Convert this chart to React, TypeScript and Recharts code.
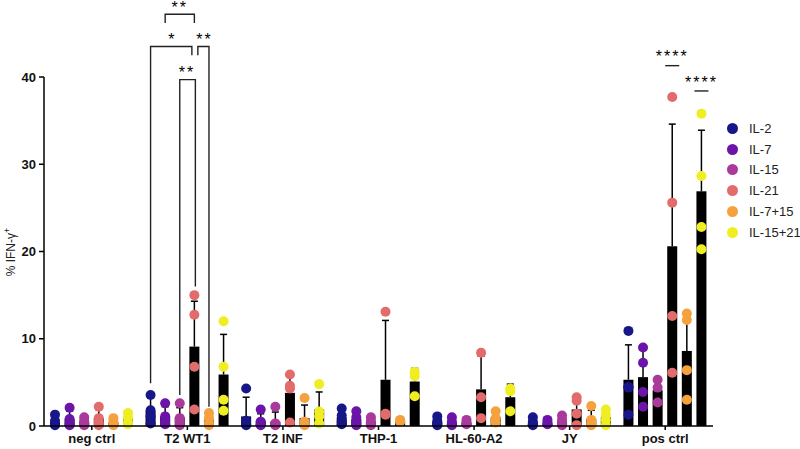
import React from 'react';
import { BarChart, Bar, XAxis, YAxis, Legend } from 'recharts';

const categories = ['neg ctrl', 'T2 WT1', 'T2 INF', 'THP-1', 'HL-60-A2', 'JY', 'pos ctrl'];
const seriesNames = ['IL-2', 'IL-7', 'IL-15', 'IL-21', 'IL-7+15', 'IL-15+21'];
const seriesColors = ['#17178a', '#6a14aa', '#a93a9c', '#e26b6b', '#f5a13e', '#eeee22'];

// bar heights (mean % IFN-γ+)
const il2Mean = [0.5, 1.7, 1.1, 1.0, 0.5, 0.4, 5.3];
const il7Mean = [0.8, 1.1, 0.6, 0.8, 0.4, 0.3, 5.6];
const il15Mean = [0.5, 1.0, 0.5, 0.5, 0.4, 0.5, 4.1];
const il21Mean = [0.9, 9.1, 3.8, 5.3, 4.2, 1.9, 20.6];
const il715Mean = [0.4, 0.7, 0.9, 0.6, 1.0, 0.8, 8.6];
const il1521Mean = [0.8, 5.9, 1.9, 5.1, 3.3, 1.0, 26.9];

// top of the error bars (mean + SD)
const il2Top = [1.1, 3.2, 3.3, 1.8, 1.0, 0.9, 9.3];
const il7Top = [1.7, 2.2, 1.4, 1.5, 0.8, 0.6, 8.7];
const il15Top = [0.9, 2.1, 1.6, 0.9, 0.7, 1.0, 5.4];
const il21Top = [1.9, 14.3, 6.1, 12.1, 8.0, 3.4, 34.6];
const il715Top = [0.8, 1.4, 2.4, 0.7, 1.7, 1.8, 12.9];
const il1521Top = [1.4, 10.5, 3.9, 6.6, 4.8, 1.8, 33.9];

// individual donors
const il2Dots = [[1.3, 0.6, 0.2, 0.1], [3.55, 1.8, 1.1, 0.3], [4.3, 0.6, 0.2, 0.1], [2.0, 1.2, 0.5, 0.2], [1.1, 0.6, 0.3, 0.1], [1.0, 0.5, 0.2, 0.1], [10.9, 4.5, 4.4, 1.3]];
const il7Dots = [[2.1, 0.8, 0.3, 0.1], [2.6, 1.1, 0.6, 0.2], [1.9, 0.5, 0.2, 0.1], [1.7, 1.0, 0.4, 0.1], [1.0, 0.5, 0.2, 0.1], [0.7, 0.4, 0.2], [9.0, 7.25, 3.9, 2.2]];
const il15Dots = [[1.0, 0.6, 0.3, 0.1], [2.6, 0.9, 0.5, 0.1], [2.2, 0.3, 0.2, 0.1], [1.0, 0.6, 0.3, 0.1], [0.7, 0.4, 0.2], [1.2, 0.7, 0.4, 0.1], [5.3, 4.4, 2.7]];
const il21Dots = [[2.2, 0.9, 0.4, 0.1], [15.0, 12.75, 6.8, 1.9], [5.9, 4.6, 4.3, 0.4], [13.1, 1.4, 1.3], [8.4, 3.3, 0.9], [3.3, 2.9, 1.4, 0.1], [37.7, 25.6, 12.6, 6.1]];
const il715Dots = [[0.9, 0.5, 0.2, 0.1], [1.5, 0.9, 0.4, 0.1], [3.2, 0.5, 0.2, 0.1], [0.7, 0.6, 0.5], [1.7, 0.9, 0.4], [2.3, 0.7, 0.3, 0.1], [12.9, 12.15, 6.4, 3.0]];
const il1521Dots = [[1.5, 1.0, 0.5, 0.2], [12.0, 6.8, 3.0, 1.75], [4.8, 1.65, 1.1, 0.3], [6.2, 5.7, 3.4], [4.3, 4.0, 1.7], [1.9, 1.25, 0.7, 0.1], [35.8, 28.65, 22.8, 20.25]];

const means = [il2Mean, il7Mean, il15Mean, il21Mean, il715Mean, il1521Mean];
const tops = [il2Top, il7Top, il15Top, il21Top, il715Top, il1521Top];
const dots = [il2Dots, il7Dots, il15Dots, il21Dots, il715Dots, il1521Dots];

const data = categories.map((name, i) => {
  const row: any = { name };
  means.forEach((m, s) => { row[`s${s}`] = m[i]; });
  return row;
});

const BAR_SIZE = 10;
const BAR_GAP = 4.6;
const FONT = '"Liberation Sans", Arial, sans-serif';

const Stars = ({ x, y, t }: any) => (
  <text x={x} y={y + 8} textAnchor="middle" fontSize={16} letterSpacing={2} fill="#000" stroke="none" fontFamily={FONT}>{t}</text>
);

// significance brackets, drawn from the last series so they sit on top
const Brackets = ({ cx, step, py, index }: any) => {
  const bx = (j: number, d = 0) => cx - (5 - j) * step + d;
  const st = { stroke: '#222', strokeWidth: 1.4, fill: 'none' };
  if (index === 1) {
    return (
      <g>
        <polyline {...st} points={`${bx(1)},${py(46.2)} ${bx(1)},${py(47.2)} ${bx(3)},${py(47.2)} ${bx(3)},${py(46.2)}`} />
        <Stars x={(bx(1) + bx(3)) / 2} y={py(48.3)} t="**" />
        <polyline {...st} points={`${bx(0)},${py(4.9)} ${bx(0)},${py(43.5)} ${bx(3, -2.5)},${py(43.5)} ${bx(3, -2.5)},${py(42.5)}`} />
        <Stars x={(bx(0) + bx(3)) / 2} y={py(44.6)} t="*" />
        <polyline {...st} points={`${bx(3, 3.5)},${py(42.5)} ${bx(3, 3.5)},${py(43.5)} ${bx(4)},${py(43.5)} ${bx(4)},${py(2.2)}`} />
        <Stars x={(bx(3, 3.5) + bx(4)) / 2 + 1} y={py(44.6)} t="**" />
        <polyline {...st} points={`${bx(2)},${py(3.55)} ${bx(2)},${py(39.7)} ${bx(3, 1)},${py(39.7)} ${bx(3, 1)},${py(16.0)}`} />
        <Stars x={Math.round((bx(2) + bx(3)) / 2)} y={Math.round(py(40.8))} t="**" />
      </g>
    );
  }
  if (index === 6) {
    return (
      <g>
        <line {...st} x1={bx(3, -7)} x2={bx(3, 7)} y1={py(41.3)} y2={py(41.3)} />
        <Stars x={bx(3)} y={py(42.6)} t="****" />
        <line {...st} x1={bx(5, -7)} x2={bx(5, 7)} y1={py(38.4)} y2={py(38.4)} />
        <Stars x={bx(5)} y={py(39.7)} t="****" />
      </g>
    );
  }
  return null;
};

const BarWithPoints = (props: any) => {
  const { x, y, width, height, index, s } = props;
  const mean = means[s][index];
  const base = y + height;
  const k = height / mean;
  const py = (v: number) => base - v * k;
  const cx = x + width / 2;
  const top = py(tops[s][index]);
  return (
    <g>
      <rect x={x} y={y} width={width} height={height} fill="#000" />
      <line x1={cx} x2={cx} y1={y} y2={top} stroke="#000" strokeWidth={1.5} />
      <line x1={cx - 3.5} x2={cx + 3.5} y1={top} y2={top} stroke="#000" strokeWidth={1.5} />
      {dots[s][index].map((v, i) => (
        <circle key={i} cx={cx} cy={py(v)} r={5} fill={seriesColors[s]} />
      ))}
      {s === 5 && <Brackets cx={cx} step={width + BAR_GAP} py={py} index={index} />}
    </g>
  );
};

const LegendBox = () => (
  <div style={{ fontFamily: FONT, fontSize: 13, color: '#222' }}>
    {seriesNames.map((n, i) => (
      <div key={n} style={{ display: 'flex', alignItems: 'center', height: 20.8 }}>
        <span style={{ width: 11, height: 11, borderRadius: '50%', background: seriesColors[i], display: 'inline-block', marginRight: 11 }} />
        {n}
      </div>
    ))}
  </div>
);

const YLabel = () => (
  <text transform="translate(15,252) rotate(-90)" textAnchor="middle" fontSize={12} fill="#222" fontFamily={FONT}>
    % IFN-γ<tspan dy={-5} fontSize={9}>+</tspan>
  </text>
);

export default function App() {
  return (
    <div style={{ position: 'absolute', left: 0, top: 0, width: 800, height: 449, background: '#fff' }}>
      <BarChart
        width={800}
        height={449}
        data={data}
        margin={{ top: 77, right: 87, left: 0, bottom: 0 }}
        barSize={BAR_SIZE}
        barGap={BAR_GAP}
      >
        <XAxis
          dataKey="name"
          height={23}
          axisLine={{ stroke: '#000', strokeWidth: 1.5 }}
          tickLine={{ stroke: '#000', strokeWidth: 1.5 }}
          tickSize={4}
          tickMargin={4}
          interval={0}
          tick={{ fill: '#111', fontSize: 13, fontWeight: 700, fontFamily: FONT }}
        />
        <YAxis
          width={44}
          domain={[0, 40]}
          ticks={[0, 10, 20, 30, 40]}
          interval={0}
          axisLine={{ stroke: '#000', strokeWidth: 1.5 }}
          tickLine={{ stroke: '#000', strokeWidth: 1.5 }}
          tickSize={5}
          tickMargin={3}
          tick={{ fill: '#111', fontSize: 13, fontWeight: 700, fontFamily: FONT }}
          label={() => <YLabel />}
        />
        <Legend
          layout="vertical"
          align="center"
          verticalAlign="middle"
          content={() => <LegendBox />}
          wrapperStyle={{ left: 727, top: 118, width: 80 }}
        />
        {seriesNames.map((n, s) => (
          <Bar
            key={n}
            dataKey={`s${s}`}
            name={n}
            fill="#000"
            isAnimationActive={false}
            shape={(p: any) => <BarWithPoints {...p} s={s} />}
          />
        ))}
      </BarChart>
    </div>
  );
}
